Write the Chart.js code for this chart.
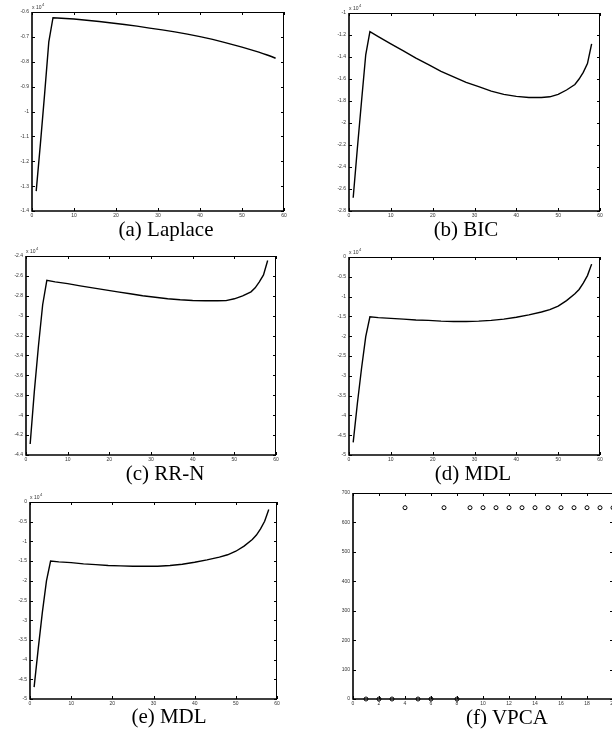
<!DOCTYPE html>
<html>
<head>
<meta charset="utf-8">
<script src="https://cdn.jsdelivr.net/npm/chart.js@4.4.1/dist/chart.umd.min.js"></script>
<style>
html, body { margin: 0; padding: 0; background: #fff; }
body { width: 612px; height: 732px; position: relative; overflow: hidden; }
canvas { position: absolute; }
.cap {
    position: absolute;
    font-family: "Liberation Serif", "Times New Roman", serif;
    font-size: 21px;
    line-height: 21px;
    white-space: nowrap;
    transform: translateX(-50%);
}
</style>
</head>
<body>
<canvas id="chartA"></canvas>
<canvas id="chartB"></canvas>
<canvas id="chartC"></canvas>
<canvas id="chartD"></canvas>
<canvas id="chartE"></canvas>
<canvas id="chartF"></canvas>
<div class="cap" style="left:166px;top:219px">(a) Laplace</div>
<div class="cap" style="left:466px;top:219px">(b) BIC</div>
<div class="cap" style="left:165px;top:463px">(c) RR-N</div>
<div class="cap" style="left:473px;top:463px">(d) MDL</div>
<div class="cap" style="left:169px;top:706px">(e) MDL</div>
<div class="cap" style="left:507px;top:707px">(f) VPCA</div>
<script>
// Number of components (x) for panels a-e
const components = [1, 2, 3, 4, 5, 7, 10, 13, 16, 19, 22, 25, 28, 31, 34, 37, 40, 43, 46, 48, 50, 52, 54, 55, 56, 57, 58];

// Criterion values, in units of 10^4
const laplace = [-1.32, -1.13, -0.93, -0.72, -0.623, -0.625, -0.628, -0.633, -0.638, -0.644, -0.650, -0.657, -0.665, -0.672, -0.680, -0.689, -0.699, -0.710, -0.723, -0.732, -0.741, -0.751, -0.761, -0.767, -0.773, -0.779, -0.786];
const bic = [-2.68, -2.23, -1.80, -1.38, -1.17, -1.215, -1.28, -1.345, -1.41, -1.47, -1.53, -1.58, -1.63, -1.67, -1.71, -1.74, -1.758, -1.768, -1.768, -1.762, -1.74, -1.70, -1.65, -1.60, -1.54, -1.46, -1.28];
const rrn = [-4.29, -3.76, -3.30, -2.89, -2.645, -2.66, -2.678, -2.70, -2.72, -2.74, -2.76, -2.78, -2.80, -2.815, -2.83, -2.84, -2.847, -2.85, -2.85, -2.848, -2.83, -2.80, -2.76, -2.72, -2.66, -2.59, -2.445];
const mdlD = [-4.68, -3.70, -2.81, -2.01, -1.51, -1.53, -1.55, -1.57, -1.59, -1.60, -1.62, -1.63, -1.63, -1.62, -1.60, -1.57, -1.52, -1.46, -1.39, -1.33, -1.24, -1.10, -0.93, -0.82, -0.66, -0.47, -0.18];
const mdlE = [-4.70, -3.72, -2.80, -2.00, -1.50, -1.52, -1.54, -1.57, -1.59, -1.61, -1.62, -1.63, -1.63, -1.63, -1.61, -1.58, -1.53, -1.47, -1.40, -1.34, -1.25, -1.12, -0.95, -0.84, -0.68, -0.49, -0.19];

// VPCA scatter
const vpcaX = [1, 2, 3, 4, 5, 6, 7, 8, 9, 10, 11, 12, 13, 14, 15, 16, 17, 18, 19, 20];
const vpcaY = [0, 0, 0, 650, 0, 0, 650, 0, 650, 650, 650, 650, 650, 650, 650, 650, 650, 650, 650, 650];

// Tick labels
const xTicks60 = [0, 10, 20, 30, 40, 50, 60];
const yTicksA = [-1.4, -1.3, -1.2, -1.1, -1, -0.9, -0.8, -0.7, -0.6];
const yTicksB = [-2.8, -2.6, -2.4, -2.2, -2, -1.8, -1.6, -1.4, -1.2, -1];
const yTicksC = [-4.4, -4.2, -4, -3.8, -3.6, -3.4, -3.2, -3, -2.8, -2.6, -2.4];
const yTicksD = [-5, -4.5, -4, -3.5, -3, -2.5, -2, -1.5, -1, -0.5, 0];
const xTicksF = [0, 2, 4, 6, 8, 10, 12, 14, 16, 18, 20];
const yTicksF = [0, 100, 200, 300, 400, 500, 600, 700];

// Box with inward ticks, MATLAB style
const framePlugin = {
    id: 'frame',
    afterDraw(chart, args, opts) {
        const { ctx, chartArea: a, scales } = chart;
        ctx.save();
        ctx.strokeStyle = '#000';
        ctx.lineWidth = 1;
        ctx.beginPath();
        scales.x.ticks.forEach(t => {
            const px = Math.round(scales.x.getPixelForValue(t.value)) + 0.5;
            ctx.moveTo(px, a.bottom); ctx.lineTo(px, a.bottom - 3);
            ctx.moveTo(px, a.top); ctx.lineTo(px, a.top + 3);
        });
        scales.y.ticks.forEach(t => {
            const py = Math.round(scales.y.getPixelForValue(t.value)) + 0.5;
            ctx.moveTo(a.left, py); ctx.lineTo(a.left + 3, py);
            ctx.moveTo(a.right, py); ctx.lineTo(a.right - 3, py);
        });
        ctx.stroke();
        // top and right edges
        ctx.beginPath();
        ctx.moveTo(a.left, a.top + 0.5); ctx.lineTo(a.right - 0.5, a.top + 0.5); ctx.lineTo(a.right - 0.5, a.bottom);
        ctx.stroke();
        // heavier left and bottom edges
        ctx.lineWidth = 1.6;
        ctx.beginPath();
        ctx.moveTo(a.left, a.top); ctx.lineTo(a.left, a.bottom); ctx.lineTo(a.right, a.bottom);
        ctx.stroke();
        if (opts.exponent) {
            ctx.fillStyle = '#333';
            ctx.font = '5px "Liberation Sans", Arial, sans-serif';
            ctx.fillText('x 10', a.left, a.top - 3);
            const w = ctx.measureText('x 10').width;
            ctx.font = '4px "Liberation Sans", Arial, sans-serif';
            ctx.fillText(opts.exponent, a.left + w + 0.5, a.top - 6);
        }
        ctx.restore();
    }
};

function axis(min, max, ticks, size, horizontal) {
    return {
        type: 'linear',
        min: min,
        max: max,
        afterBuildTicks: scale => { scale.ticks = ticks.map(v => ({ value: v })); },
        afterFit: scale => { if (horizontal) scale.height = size; else scale.width = size; },
        grid: { display: false, drawTicks: false },
        border: { display: false },
        ticks: {
            autoSkip: false,
            maxRotation: 0,
            padding: horizontal ? 2 : 3,
            color: '#333',
            font: { family: '"Liberation Sans", Arial, sans-serif', size: 5 },
            callback: v => String(v)
        }
    };
}

function makePanel(id, box, xTicks, yTicks, dataset, exponent) {
    const padL = 32, padT = 12, padR = 8, padB = 12;
    const canvas = document.getElementById(id);
    canvas.width = box.r - box.l + padL + padR;
    canvas.height = box.b - box.t + padT + padB;
    canvas.style.left = (box.l - padL) + 'px';
    canvas.style.top = (box.t - padT) + 'px';
    return new Chart(canvas.getContext('2d'), {
        type: 'line',
        data: { datasets: [dataset] },
        options: {
            responsive: false,
            animation: false,
            devicePixelRatio: 1,
            layout: { padding: { top: padT, right: padR, left: 0, bottom: 0 } },
            plugins: {
                legend: { display: false },
                tooltip: { enabled: false },
                frame: { exponent: exponent }
            },
            scales: {
                x: axis(xTicks[0], xTicks[xTicks.length - 1], xTicks, padB, true),
                y: axis(yTicks[0], yTicks[yTicks.length - 1], yTicks, padL, false)
            }
        },
        plugins: [framePlugin]
    });
}

function curve(values) {
    return {
        data: components.map((x, i) => ({ x: x, y: values[i] })),
        borderColor: '#000',
        borderWidth: 1.4,
        pointRadius: 0,
        tension: 0,
        fill: false
    };
}

makePanel('chartA', { l: 32, r: 284, t: 12, b: 211 }, xTicks60, yTicksA, curve(laplace), '4');
makePanel('chartB', { l: 349, r: 600, t: 13, b: 211 }, xTicks60, yTicksB, curve(bic), '4');
makePanel('chartC', { l: 26, r: 276, t: 256, b: 455 }, xTicks60, yTicksC, curve(rrn), '4');
makePanel('chartD', { l: 349, r: 600, t: 257, b: 455 }, xTicks60, yTicksD, curve(mdlD), '4');
makePanel('chartE', { l: 30, r: 277, t: 502, b: 699 }, xTicks60, yTicksD, curve(mdlE), '4');

makePanel('chartF', { l: 353, r: 613, t: 493, b: 699 }, xTicksF, yTicksF, {
    data: vpcaX.map((x, i) => ({ x: x, y: vpcaY[i] })),
    showLine: false,
    pointStyle: 'circle',
    pointRadius: 2,
    pointBorderWidth: 1,
    pointBorderColor: '#000',
    pointBackgroundColor: 'rgba(0,0,0,0)',
    clip: false
}, null);
</script>
</body>
</html>
